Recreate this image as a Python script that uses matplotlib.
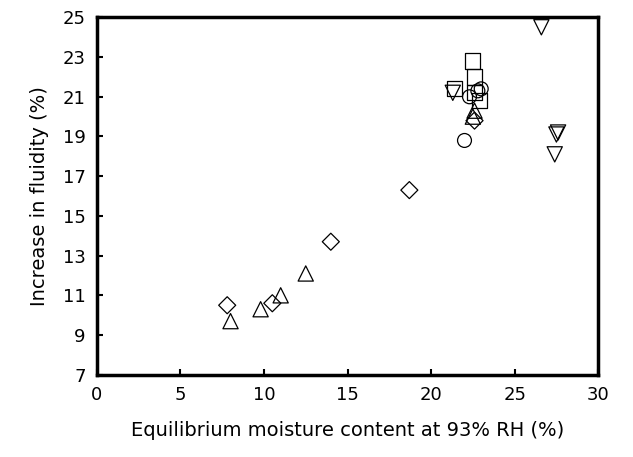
import matplotlib
matplotlib.use('Agg')
import matplotlib.pyplot as plt

# data
tri_up_x = [8.0, 9.8, 11.0, 12.5, 22.5, 22.6]
tri_up_y = [9.7, 10.3, 11.0, 12.1, 20.0, 20.3]
diam_x = [7.8, 10.5, 14.0, 18.7, 22.6]
diam_y = [10.5, 10.6, 13.7, 16.3, 19.8]
circ_x = [22.0, 22.3, 22.8, 23.0]
circ_y = [18.8, 21.0, 21.3, 21.4]
sq_x = [21.4, 22.5, 22.6, 22.9, 22.6]
sq_y = [21.4, 22.8, 22.0, 20.8, 21.2]
tri_dn_x = [26.6, 21.3, 27.5, 27.6, 27.4]
tri_dn_y = [24.5, 21.2, 19.1, 19.2, 18.1]

fig = plt.figure(figsize=(6.33, 4.57), dpi=100)
ax = fig.add_axes([0.153, 0.18, 0.792, 0.782])

style = dict(facecolor='none', edgecolor='black', s=120, linewidths=0.9)
ax.scatter(tri_up_x, tri_up_y, marker='^', **style)
ax.scatter(diam_x, diam_y, marker='D', s=75, facecolor='none', edgecolor='black', linewidths=0.9)
ax.scatter(circ_x, circ_y, marker='o', s=100, facecolor='none', edgecolor='black', linewidths=0.9)
ax.scatter(sq_x, sq_y, marker='s', **style)
ax.scatter(tri_dn_x, tri_dn_y, marker='v', **style)

ax.set_xlim(0, 30)
ax.set_ylim(7, 25)
ax.set_xticks(range(0, 31, 5))
ax.set_yticks(range(7, 26, 2))
ax.tick_params(direction='in', labelsize=13, length=4, width=1.5, pad=8)
for s in ax.spines.values():
    s.set_linewidth(2.5)
ax.set_xlabel('Equilibrium moisture content at 93% RH (%)', fontsize=14, labelpad=12)
ax.set_ylabel('Increase in fluidity (%)', fontsize=14, labelpad=10)

plt.savefig('out.png', dpi=100)
